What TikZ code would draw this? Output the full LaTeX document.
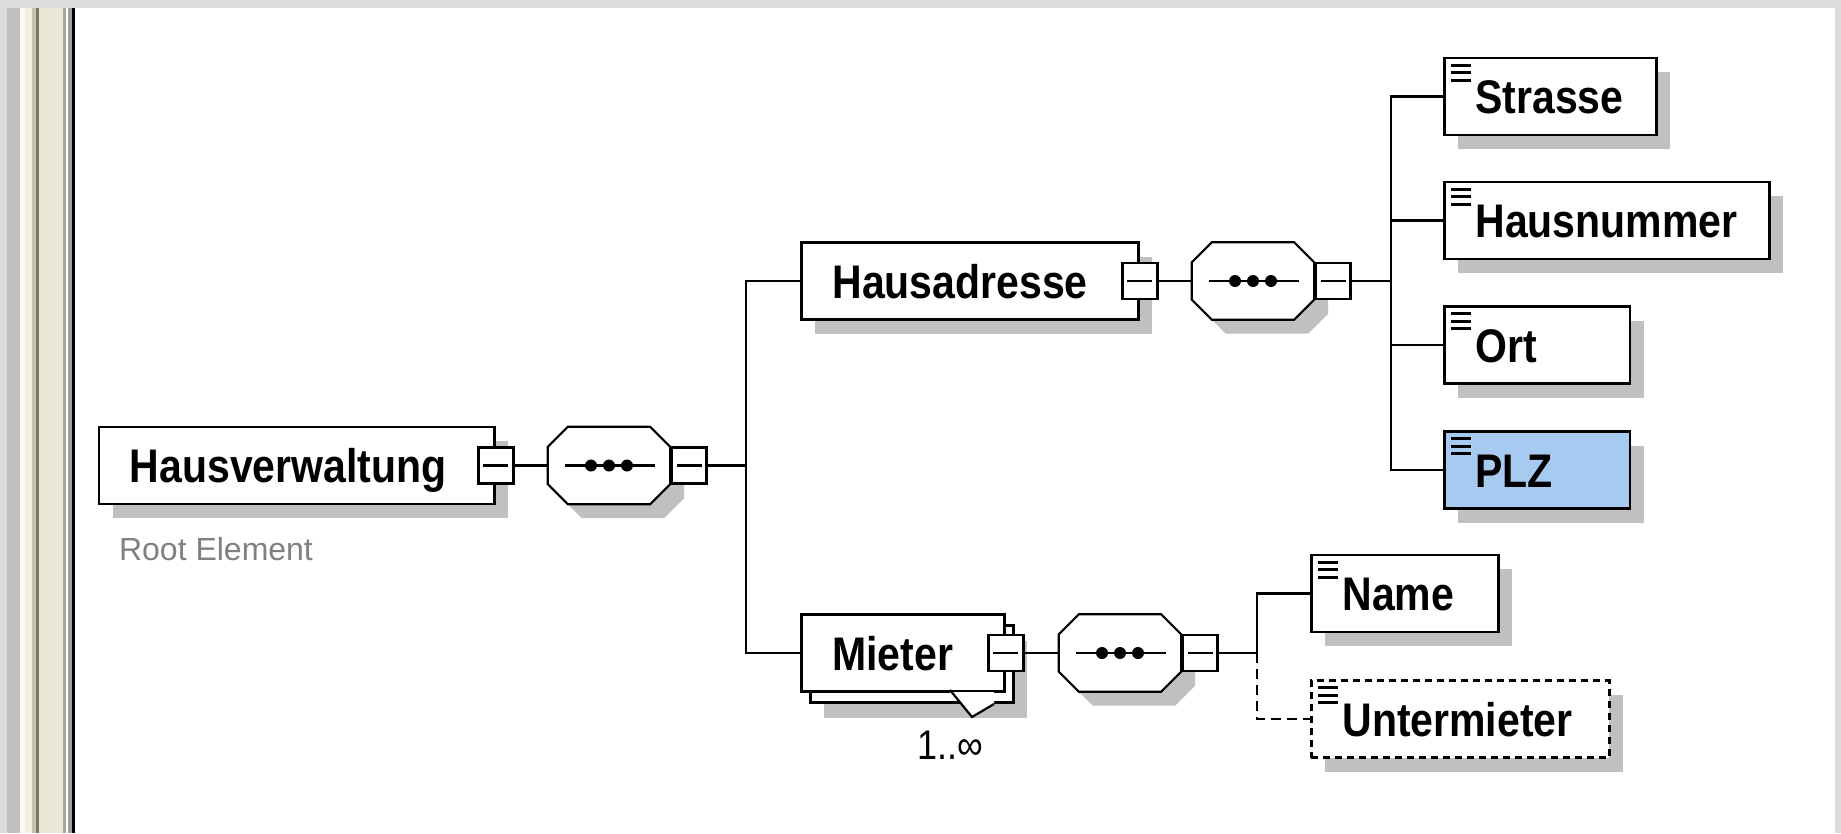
\documentclass[tikz,border=0pt]{standalone}
\usepackage{fontspec}
\setmainfont{Liberation Sans}
\usepackage{graphicx}
\usepackage{tikz}
\usetikzlibrary{positioning, shadows}

\definecolor{shadowgray}{HTML}{C0C0C0}
\definecolor{plzblue}{HTML}{A6CAF0}
\definecolor{rootgray}{HTML}{808080}
\definecolor{framegray}{HTML}{DCDCDC}
\definecolor{stripegray}{HTML}{BFBFBF}
\definecolor{stripeivory}{HTML}{FBF9EF}
\definecolor{stripecream}{HTML}{F3F0E0}
\definecolor{stripetan}{HTML}{C8C4B0}
\definecolor{stripeolive}{HTML}{7D7A66}
\definecolor{stripebeige}{HTML}{EBE7D6}
\definecolor{stripedark}{HTML}{A8A696}
\definecolor{stripemid}{HTML}{A0A0A0}

\newcommand{\elemfont}{\fontsize{41pt}{41pt}\selectfont\bfseries}
\newcommand{\tallword}[1]{\scalebox{1}[1.15]{#1}}
\newcommand{\seqoctagon}[1]{%
  \filldraw[seqline] ([xshift=20pt]#1.north west) -- ([xshift=-20pt]#1.north east) -- ([yshift=-20pt]#1.north east) -- ([yshift=20pt]#1.south east) -- ([xshift=-20pt]#1.south east) -- ([xshift=20pt]#1.south west) -- ([yshift=20pt]#1.south west) -- ([yshift=-20pt]#1.north west) -- cycle;
  \draw[line width=2.8pt] ([xshift=-44pt]#1.center) -- ([xshift=46pt]#1.center);
  \fill[black] ([xshift=-18pt]#1.center) circle (6pt);
  \fill[black] (#1.center) circle (6pt);
  \fill[black] ([xshift=18pt]#1.center) circle (6pt);}

\tikzset{
  boxshadow/.style={general shadow={fill=shadowgray, shadow xshift=14pt, shadow yshift=-14pt}},
  elembase/.style={rectangle, draw=black, line width=2.8pt, fill=white, anchor=west, minimum height=77pt, inner xsep=31pt, inner ysep=0pt, text width=#1, align=left, text height=40pt, text depth=6pt, font=\elemfont},
  elem/.style={elembase=#1, boxshadow},
  leaf/.style={elem=#1, path picture={
      \draw[solid, black, line width=3pt] ([xshift=7pt, yshift=-7pt]path picture bounding box.north west) -- ++(20pt,0pt);
      \draw[solid, black, line width=3pt] ([xshift=7pt, yshift=-14.5pt]path picture bounding box.north west) -- ++(20pt,0pt);
      \draw[solid, black, line width=3pt] ([xshift=7pt, yshift=-22pt]path picture bounding box.north west) -- ++(20pt,0pt);}},
  minusbox/.style={rectangle, draw=black, line width=2.8pt, fill=white, minimum width=35pt, minimum height=36pt, inner sep=0pt, path picture={
      \draw[black, line width=2.5pt] ([xshift=5pt]path picture bounding box.west) -- ([xshift=-5pt]path picture bounding box.east);}},
  seqspot/.style={rectangle, minimum width=122pt, minimum height=77pt, inner sep=0pt},
  seqline/.style={draw=black, line width=2.2pt, fill=white, boxshadow},
  conn/.style={line width=2.8pt},
  optconn/.style={conn, dash pattern=on 10pt off 6pt},
  rootlabel/.style={text=rootgray, font=\fontsize{32pt}{32pt}\selectfont, inner sep=0pt},
  occlabel/.style={font=\fontsize{36pt}{36pt}\selectfont, inner sep=0pt}
}

\begin{document}
\begin{tikzpicture}[x=1pt, y=-1pt]
\useasboundingbox (0,0) rectangle (1841,833);
\fill[white] (0,0) rectangle (1841,833);

% window frame
\fill[framegray] (0,0) rectangle (1841,8);
\fill[framegray] (1835,0) rectangle (1841,833);
\fill[framegray] (0,8) rectangle (7,833);
\fill[stripegray] (7,8) rectangle (20,833);
\fill[stripeivory] (20,8) rectangle (25,833);
\fill[stripecream] (25,8) rectangle (32,833);
\fill[stripetan] (32,8) rectangle (36,833);
\fill[stripeolive] (36,8) rectangle (39,833);
\fill[stripebeige] (39,8) rectangle (63,833);
\fill[stripedark] (63,8) rectangle (66,833);
\fill[white] (66,8) rectangle (68,833);
\fill[stripemid] (68,8) rectangle (72,833);
\fill[black] (72,8) rectangle (75,833);

\node[elem=333.5pt] (hv) at (97.5,465.5) {\tallword{Hausverwaltung}};
\node[minusbox] (hvm) at (hv.east) {};
\node[seqspot] (hvseq) at (609,465.5) {};
\seqoctagon{hvseq}
\node[minusbox, anchor=west] (hvseqm) at (hvseq.east) {};
\node[rootlabel] (hvroot) at (216,549) {Root Element};
\coordinate (hvbus) at (746,465.5);

\node[elem=275pt] (ha) at (800,281) {\tallword{Hausadresse}};
\node[minusbox] (ham) at (ha.east) {};
\node[seqspot] (haseq) at (1253,281) {};
\seqoctagon{haseq}
\node[minusbox, anchor=west] (haseqm) at (haseq.east) {};
\coordinate (habus) at (1391,281);

\node[leaf=150pt] (strasse) at (1443,96.5) {\tallword{Strasse}};
\node[leaf=263pt] (hausnummer) at (1443,220.5) {\tallword{Hausnummer}};
\node[leaf=123.5pt] (ort) at (1443,345) {\tallword{Ort}};
\node[leaf=123.5pt, fill=plzblue] (plz) at (1443,470) {\tallword{PLZ}};

\node[elembase=141pt, general shadow={fill=shadowgray, shadow xshift=23pt, shadow yshift=-26pt}, general shadow={draw=black, fill=white, line width=2.8pt, shadow xshift=9pt, shadow yshift=-11pt}] (mi) at (800,653) {\tallword{Mieter}};
\fill[white] (950,692) -- (972,717) -- (994,704) -- (994,692) -- cycle;
\draw[line width=2.2pt] (950,690) -- (972,717) -- (994,704);
\node[occlabel] (miocc) at (950,745) {\tallword{1..∞}};
\node[minusbox] (mim) at (mi.east) {};
\node[seqspot] (miseq) at (1120,653) {};
\seqoctagon{miseq}
\node[minusbox, anchor=west] (miseqm) at (miseq.east) {};
\coordinate (mibus) at (1257,653);

\node[leaf=125pt] (mname) at (1310,593.5) {\tallword{Name}};
\node[leaf=236pt, dash pattern=on 7pt off 5pt] (unter) at (1310,719) {\tallword{Untermieter}};

\draw[conn] (hvm.east) -- (hvseq.west);
\draw[conn] (hvseqm.east) -- (hvbus);
\draw[conn] (ha.west) -| (hvbus) |- (mi.west);

\draw[conn] (ham.east) -- (haseq.west);
\draw[conn] (haseqm.east) -- (habus);
\draw[conn] (strasse.west) -| (habus) |- (plz.west);
\draw[conn] (hausnummer.west) -- (hausnummer.west -| habus);
\draw[conn] (ort.west) -- (ort.west -| habus);

\draw[conn] (mim.east) -- (miseq.west);
\draw[conn] (miseqm.east) -- (mibus);
\draw[conn] (mname.west) -| (mibus);
\draw[optconn] (mibus) |- (unter.west);
\end{tikzpicture}
\end{document}
